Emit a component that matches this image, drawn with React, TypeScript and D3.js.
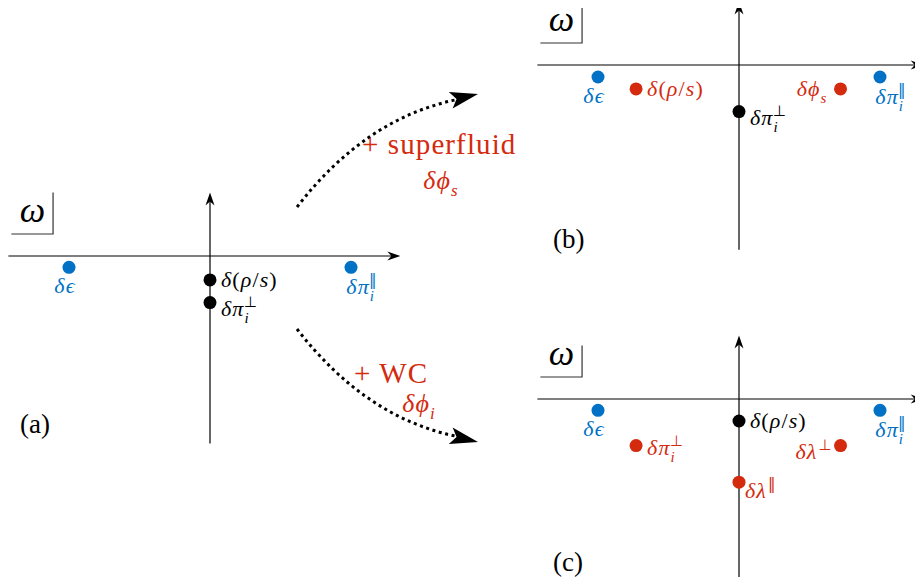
import React from 'react';
import * as d3 from 'd3';

// Pole positions in the complex ω plane (re, im), one small list per panel.
type Pole = { label: string; sub?: string; sup?: string; re: number; im: number; kind: string; place: string };

const polesA: Pole[] = [
  { label: 'δϵ', re: -1, im: -0.08, kind: 'hydro', place: 'below' },
  { label: 'δπ', sub: 'i', sup: '‖', re: 1, im: -0.08, kind: 'hydro', place: 'belowSub' },
  { label: 'δ(ρ/s)', re: 0, im: -0.17, kind: 'slow', place: 'right' },
  { label: 'δπ', sub: 'i', sup: '⊥', re: 0, im: -0.33, kind: 'slow', place: 'rightLow' },
];

const polesB: Pole[] = [
  { label: 'δϵ', re: -1, im: -0.085, kind: 'hydro', place: 'below' },
  { label: 'δπ', sub: 'i', sup: '‖', re: 1, im: -0.085, kind: 'hydro', place: 'belowSub' },
  { label: 'δ(ρ/s)', re: -0.73, im: -0.17, kind: 'added', place: 'right' },
  { label: 'δϕ', sub: 's', re: 0.72, im: -0.17, kind: 'added', place: 'left' },
  { label: 'δπ', sub: 'i', sup: '⊥', re: 0, im: -0.33, kind: 'slow', place: 'rightLow' },
];

const polesC: Pole[] = [
  { label: 'δϵ', re: -1, im: -0.08, kind: 'hydro', place: 'below' },
  { label: 'δπ', sub: 'i', sup: '‖', re: 1, im: -0.08, kind: 'hydro', place: 'belowSub' },
  { label: 'δ(ρ/s)', re: 0, im: -0.156, kind: 'slow', place: 'right' },
  { label: 'δπ', sub: 'i', sup: '⊥', re: -0.73, im: -0.33, kind: 'added', place: 'rightMid' },
  { label: 'δλ', sup: '⊥', re: 0.72, im: -0.33, kind: 'added', place: 'leftLow' },
  { label: 'δλ', sup: '‖', re: 0, im: -0.59, kind: 'added', place: 'rightBelow' },
];

const panelNames = ['(a)', '(b)', '(c)'];
const transitionLabels = [
  { head: '+ superfluid', field: 'δϕ', sub: 's' },
  { head: '+ WC', field: 'δϕ', sub: 'i' },
];

const BLUE = '#0071c5';
const RED = '#d42a0e';
const colorOf: Record<string, string> = { hydro: BLUE, added: RED, slow: '#000' };

const place: Record<string, { dx: number; dy: number; anchor: string }> = {
  below: { dx: -4, dy: 26, anchor: 'middle' },
  belowSub: { dx: 11, dy: 27, anchor: 'middle' },
  right: { dx: 11, dy: 7, anchor: 'start' },
  rightLow: { dx: 11, dy: 13, anchor: 'start' },
  rightMid: { dx: 11, dy: 9, anchor: 'start' },
  left: { dx: -13, dy: 7, anchor: 'end' },
  leftLow: { dx: -8, dy: 13, anchor: 'end' },
  rightBelow: { dx: 6, dy: 16, anchor: 'start' },
};

const UNIT = 141;
const SERIF = '"Liberation Serif", serif';

const panels = [
  { name: panelNames[0], ox: 210, oy: 256, reMax: 1.35, imMin: -1.33, poles: polesA, nameX: 20, nameY: 433, boxTop: 0.45 },
  { name: panelNames[1], ox: 739, oy: 65, reMax: 1.31, imMin: -1.31, poles: polesB, nameX: 553, nameY: 248, boxTop: 0.45 },
  { name: panelNames[2], ox: 739, oy: 399, reMax: 1.31, imMin: -1.35, poles: polesC, nameX: 553, nameY: 571, boxTop: 0.38 },
];

function Head({ x, y, angle, len, half, notch }: any) {
  const p = d3.path();
  p.moveTo(0, 0);
  p.lineTo(-len, -half);
  p.lineTo(-notch, 0);
  p.lineTo(-len, half);
  p.closePath();
  return <path d={p.toString()} transform={`translate(${x},${y}) rotate(${angle})`} fill="#000" />;
}

function MathText({ x, y, anchor, text, sub, sup, color, size }: any) {
  const small = Math.round(size * 0.66);
  return (
    <text x={x} y={y} textAnchor={anchor} fill={color} style={{ fontFamily: SERIF, fontSize: size, letterSpacing: 1.1 }}>
      {Array.from(text as string).map((c, i) => (
        <tspan key={i} fontStyle={/[()\/]/.test(c) ? 'normal' : 'italic'}>{c}</tspan>
      ))}
      {sub && <tspan fontSize={small} fontStyle="italic" dx={0} dy={7}>{sub}</tspan>}
      {sup && (
        <tspan fontSize={small} style={{ fontFamily: '"DejaVu Sans"' }} dx={sub ? -6 : 1} dy={sub ? -16 : -9}>{sup}</tspan>
      )}
    </text>
  );
}

function Panel({ panel }: any) {
  const x = d3.scaleLinear().domain([-1, 1]).range([panel.ox - UNIT, panel.ox + UNIT]);
  const y = d3.scaleLinear().domain([0, -1]).range([panel.oy, panel.oy + UNIT]);
  const reMin = -1.43;
  const imMax = 0.45;
  const boxRight = x(-1.113);
  const boxBottom = y(0.156);
  return (
    <g>
      {/* real axis */}
      <line x1={x(reMin)} x2={x(panel.reMax) - 8} y1={y(0)} y2={y(0)} stroke="#000" strokeWidth={1.2} />
      <Head x={x(panel.reMax)} y={y(0)} angle={0} len={13} half={4.5} notch={9} />
      {/* imaginary axis */}
      <line x1={x(0)} x2={x(0)} y1={y(panel.imMin)} y2={y(imMax) + 8} stroke="#000" strokeWidth={1.2} />
      <Head x={x(0)} y={y(imMax)} angle={-90} len={13} half={4.5} notch={9} />
      {/* ω corner box */}
      <path
        d={`M${x(reMin) + 3},${boxBottom} H${boxRight} V${y(panel.boxTop)}`}
        fill="none" stroke="#333" strokeWidth={1.2}
      />
      <text x={x(-1.26)} y={y(0.24)} textAnchor="middle" style={{ fontFamily: SERIF, fontStyle: 'italic', fontSize: 36 }}>ω</text>
      {panel.poles.map((d: Pole, i: number) => {
        const pl = place[d.place];
        return (
          <g key={i}>
            <circle cx={x(d.re)} cy={y(d.im)} r={6.5} fill={colorOf[d.kind]} />
            <MathText
              x={x(d.re) + pl.dx} y={y(d.im) + pl.dy} anchor={pl.anchor}
              text={d.label} sub={d.sub} sup={d.sup} color={colorOf[d.kind]} size={22}
            />
          </g>
        );
      })}
      <text x={panel.nameX} y={panel.nameY} style={{ fontFamily: SERIF, fontSize: 27 }}>{panel.name}</text>
    </g>
  );
}

function Transition({ flip }: { flip: boolean }) {
  // dotted arc from panel (a) towards (b) or (c), mirrored about y = 268
  const m = (v: number) => (flip ? 536 - v : v);
  const p = d3.path();
  p.moveTo(297, m(207));
  p.quadraticCurveTo(365, m(119), 455, m(100));
  return (
    <g>
      <path d={p.toString()} fill="none" stroke="#000" strokeWidth={3} strokeDasharray="3 3.6" />
      <Head x={478} y={m(94)} angle={flip ? 13 : -13} len={28} half={8.5} notch={22} />
    </g>
  );
}

export default function App() {
  const t0 = transitionLabels[0];
  const t1 = transitionLabels[1];
  const head = { fontFamily: SERIF, fontSize: 29, letterSpacing: 1.1 };
  return (
    <svg width={923} height={585} viewBox="0 0 923 585" style={{ display: 'block', margin: -8 }}>
      <rect width={923} height={585} fill="#fff" />
      {panels.map((p, i) => <Panel key={i} panel={p} />)}
      <Transition flip={false} />
      <Transition flip={true} />
      <text x={362} y={154} fill={RED} style={head}>{t0.head}</text>
      <MathText x={441} y={189} anchor="middle" text={t0.field} sub={t0.sub} color={RED} size={26} />
      <text x={354} y={383} fill={RED} style={head}>{t1.head}</text>
      <MathText x={419} y={412} anchor="middle" text={t1.field} sub={t1.sub} color={RED} size={26} />
    </svg>
  );
}
